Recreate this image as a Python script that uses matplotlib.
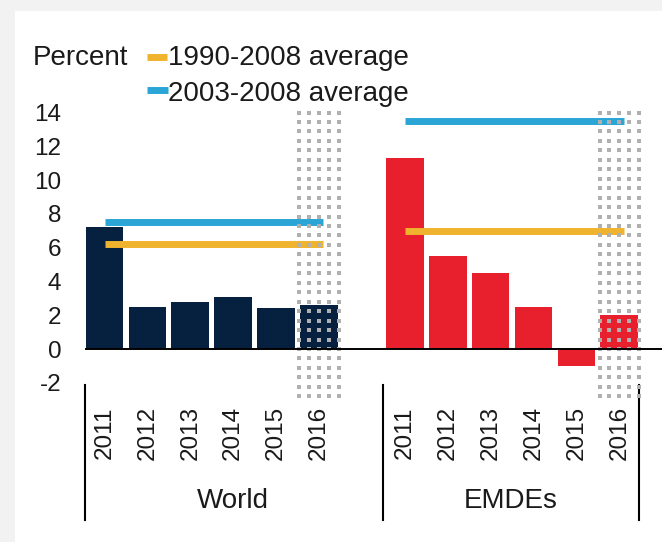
'''Growth bar chart: World vs EMDEs, 2011-2016 with historical averages'''
import numpy as np
import matplotlib
matplotlib.use('Agg')
import matplotlib.pyplot as plt
import matplotlib.transforms as mtransforms
from matplotlib.patches import Rectangle
from matplotlib.lines import Line2D

plt.rcParams['font.family'] = ['Liberation Sans', 'DejaVu Sans']

# Data
years = ['2011', '2012', '2013', '2014', '2015', '2016']
groups = ['World', 'EMDEs']
world = [7.2, 2.5, 2.8, 3.1, 2.4, 2.6]
emdes = [11.3, 5.5, 4.5, 2.5, -1.0, 2.0]
avg_1990_2008 = [6.2, 7.0]   # World, EMDEs
avg_2003_2008 = [7.5, 13.5]  # World, EMDEs
yticks = [-2, 0, 2, 4, 6, 8, 10, 12, 14]
ytick_labels = ['-2', '0', '2', '4', '6', '8', '10', '12', '14']

NAVY = '#06203f'
RED = '#e8202e'
ORANGE = '#f0b32e'
BLUE = '#2aa5d6'
DOTS = '#b0b0b0'
TXT = '#1a1a1a'

W, H = 662, 542
fig = plt.figure(figsize=(W / 100, H / 100), dpi=100, facecolor='#f2f2f2')
fig.patches.append(Rectangle((15 / W, 0), 1, 1 - 11 / H, transform=fig.transFigure,
                             facecolor='white', edgecolor='none', zorder=-10))

ax_bottom, ax_top = 398, 99
ax = fig.add_axes([85 / W, 1 - ax_bottom / H, (W - 85) / W, (ax_bottom - ax_top) / H])
ax.set_facecolor('none')

world_pos = np.arange(6)
emde_pos = np.arange(6) + 7
bar_w = 0.88

ax.bar(world_pos, world, width=bar_w, color=NAVY, zorder=2)
ax.bar(emde_pos, emdes, width=bar_w, color=RED, zorder=2)

# average lines
for pos, a1, a2 in [(world_pos, avg_1990_2008[0], avg_2003_2008[0]),
                    (emde_pos, avg_1990_2008[1], avg_2003_2008[1])]:
    ax.plot([pos[0], pos[-1] + 0.1], [a2, a2], color=BLUE, lw=5, solid_capstyle='butt', zorder=3)
    ax.plot([pos[0], pos[-1] + 0.1], [a1, a1], color=ORANGE, lw=5, solid_capstyle='butt', zorder=3)

# forecast (2016) dotted shading
ylo, yhi = -2.8, 14.3
for p in (world_pos[-1], emde_pos[-1]):
    xs = p + np.linspace(-0.46, 0.46, 5)
    ys = np.arange(ylo, yhi, 0.56)
    gx, gy = np.meshgrid(xs, ys)
    ax.scatter(gx.ravel(), gy.ravel(), marker='s', s=6, color=DOTS,
               linewidths=0, zorder=4)

ax.axhline(0, color='black', lw=1.4, zorder=5)

ax.set_xlim(-0.455, -0.455 + (W - 85) / 42.9)
ax.set_ylim(-2.9, 14.8)
ax.set_yticks(yticks, ytick_labels)
ax.set_xticks(np.concatenate([world_pos, emde_pos]), years * 2, rotation=90)
ax.tick_params(axis='y', length=0, pad=17, labelsize=17.5, labelcolor=TXT)
ax.tick_params(axis='x', length=0, pad=6, labelsize=17.5, labelcolor=TXT)
for s in ax.spines.values():
    s.set_visible(False)

# category separators and group labels
trans = mtransforms.blended_transform_factory(ax.transData, ax.transAxes)
hpx = ax_bottom - ax_top
y0 = (ax_bottom - 385) / hpx
y1 = (ax_bottom - 520) / hpx
for xsep in (-0.45, 6.5, 12.45):
    ax.add_line(Line2D([xsep, xsep], [y0, y1], transform=trans, color='black',
                       lw=1.5, clip_on=False))
ygrp = (ax_bottom - 501) / hpx
ax.text(3.0, ygrp, groups[0], transform=trans, ha='center', va='center',
        fontsize=20, color=TXT)
ax.text(9.47, ygrp, groups[1], transform=trans, ha='center', va='center',
        fontsize=20, color=TXT)

# legend
fig.text(33 / W, 1 - 65 / H, 'Percent', fontsize=20, color=TXT, va='baseline')
fig.add_artist(Line2D([147 / W, 167 / W], [1 - 57 / H] * 2, color=ORANGE, lw=5,
                      solid_capstyle='butt'))
fig.text(168 / W, 1 - 65 / H, '1990-2008 average', fontsize=20, color=TXT, va='baseline')
fig.add_artist(Line2D([147 / W, 168 / W], [1 - 90 / H] * 2, color=BLUE, lw=5,
                      solid_capstyle='butt'))
fig.text(168 / W, 1 - 101 / H, '2003-2008 average', fontsize=20, color=TXT, va='baseline')

plt.savefig('out.png', dpi=100, facecolor=fig.get_facecolor())
plt.close(fig)
